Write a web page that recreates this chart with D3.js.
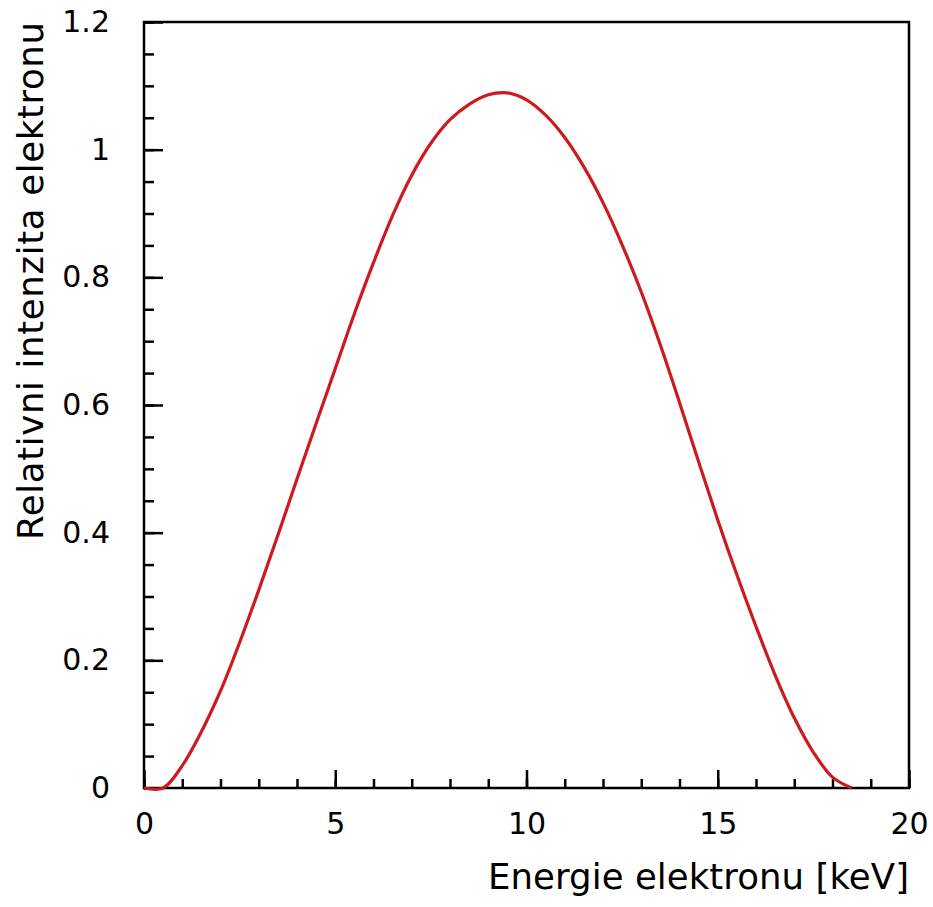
<!DOCTYPE html>
<html>
<head>
<meta charset="utf-8">
<script src="https://cdn.jsdelivr.net/npm/d3@7"></script>
<style>
  body { margin: 0; background: #fff; }
  svg { display: block; }
</style>
</head>
<body>
<div id="chart"></div>
<script>
    // values
    const energy = [0, 0.5, 1, 1.5, 2, 2.5, 3, 3.5, 4, 4.5, 5, 5.5, 6, 6.5, 7, 7.5, 8, 8.5, 9, 9.5,
        10, 10.5, 11, 11.5, 12, 12.5, 13, 13.5, 14, 14.5, 15, 15.5, 16, 16.5, 17, 17.5, 18, 18.5]
    const intensity = [0, 0, 0.035, 0.088, 0.152, 0.228, 0.310, 0.396, 0.484, 0.571, 0.657, 0.743,
        0.823, 0.897, 0.960, 1.010, 1.047, 1.071, 1.086, 1.089, 1.078, 1.054, 1.019, 0.973, 0.917,
        0.851, 0.777, 0.694, 0.604, 0.511, 0.420, 0.334, 0.253, 0.177, 0.110, 0.056, 0.017, 0]

    const xMajor = [0, 5, 10, 15, 20]
    const xMinor = d3.range(0, 21, 1)
    const yMajor = [0, 0.2, 0.4, 0.6, 0.8, 1, 1.2]
    const yMinor = d3.range(0, 1.2001, 0.05)

    const xTitle = "Energie elektronu [keV]"
    const yTitle = "Relativni intenzita elektronu"

    const width = 933
    const height = 907
    const mLeft = 144, mRight = 909, mTop = 22, mBottom = 788

    const svg = d3.select("#chart")
        .append("svg")
        .attr("width", width)
        .attr("height", height)

    const x = d3.scaleLinear().domain([0, 20]).range([mLeft, mRight])
    const y = d3.scaleLinear().domain([0, 1.2]).range([mBottom, mTop])

    // minor ticks
    svg.append("g")
        .attr("transform", "translate(0," + mBottom + ")")
        .call(d3.axisBottom(x).tickValues(xMinor).tickSize(-9).tickFormat(""))
    svg.append("g")
        .attr("transform", "translate(" + mLeft + ",0)")
        .call(d3.axisLeft(y).tickValues(yMinor).tickSize(-10).tickFormat(""))

    // major ticks with labels
    svg.append("g")
        .attr("class", "xmajor")
        .attr("transform", "translate(0," + mBottom + ")")
        .call(d3.axisBottom(x).tickValues(xMajor).tickSize(-18).tickPadding(25).tickFormat(d3.format("d")))
    svg.append("g")
        .attr("class", "ymajor")
        .attr("transform", "translate(" + mLeft + ",0)")
        .call(d3.axisLeft(y).tickValues(yMajor).tickSize(-19).tickPadding(34).tickFormat(d => String(+d.toFixed(1))))

    svg.selectAll(".domain").remove()
    svg.selectAll(".tick line").attr("stroke", "#000").attr("stroke-width", 2.5)
    svg.selectAll(".tick text")
        .attr("fill", "#000")
        .style("font-family", "DejaVu Sans")
        .style("font-size", "30px")

    // frame
    svg.append("rect")
        .attr("x", mLeft)
        .attr("y", mTop)
        .attr("width", mRight - mLeft)
        .attr("height", mBottom - mTop)
        .attr("fill", "none")
        .attr("stroke", "#000")
        .attr("stroke-width", 2.5)

    // curve
    const pts = energy.map((e, i) => [e, intensity[i]])
    const line = d3.line()
        .x(d => x(d[0]))
        .y(d => y(Math.max(0, d[1])))
        .curve(d3.curveCatmullRom.alpha(0.5))

    svg.append("path")
        .attr("d", line(pts))
        .attr("fill", "none")
        .attr("stroke", "#cc1a1f")
        .attr("stroke-width", 3.2)

    // titles
    svg.append("text")
        .attr("x", mRight)
        .attr("y", 889)
        .attr("text-anchor", "end")
        .attr("textLength", 421)
        .attr("lengthAdjust", "spacing")
        .style("font-family", "DejaVu Sans")
        .style("font-size", "35.5px")
        .text(xTitle)

    svg.append("text")
        .attr("transform", "translate(43," + mTop + ") rotate(-90)")
        .attr("text-anchor", "end")
        .attr("textLength", 518)
        .attr("lengthAdjust", "spacing")
        .style("font-family", "DejaVu Sans")
        .style("font-size", "35.5px")
        .text(yTitle)
</script>
</body>
</html>
